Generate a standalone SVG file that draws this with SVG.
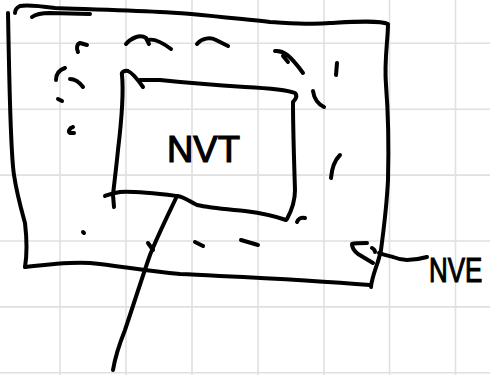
<svg xmlns="http://www.w3.org/2000/svg" width="490" height="375" viewBox="0 0 490 375">
<style>
.grid{stroke:#e0e0e0;stroke-width:1.6;fill:none}
.ink{stroke:#000;stroke-width:4;fill:none;stroke-linecap:round;stroke-linejoin:round}
.lbl{font-family:"Liberation Sans",Arial,sans-serif;fill:#000;stroke:#000;stroke-width:1.2}
</style>
<rect x="0" y="0" width="490" height="375" fill="#fff"/>
<g id="grid" class="grid">
<path d="M60,0V375M126,0V375M192,0V375M258,0V375M324,0V375M389.5,0V375M455.5,0V375"/>
<path d="M0,43.3H490M0,109.2H490M0,175.1H490M0,241H490M0,306.9H490M0,372.8H490"/>
</g>
<g id="nve">
<g class="ink">
<path d="M8,13 C9,60 10,150 14,175 C17,195 22,212 25,223 C27,240 27,255 25,267"/>
<path d="M25,267 C50,264 75,262 90,263 C120,266 145,271 180,274 C240,277 300,279 370,285"/>
<path d="M371,287 C372,275 378,265 381,250 C385,220 387,200 388,180 C389,140 388,110 386,85 C384,60 388,40 388,24 C380,20 350,22 330,23 C310,25 290,23 270,22 C230,18 190,13 160,12 C120,10 80,9 55,8 C40,6 25,5 20,6 C16,8 15,11 15,13"/>
<path d="M32,17 C36,14 42,13 50,13 L90,14"/>
</g>
<text class="lbl" transform="translate(429,282) scale(0.72,1)" x="0" y="0" font-size="36">NVE</text>
</g>
<g id="nvt">
<g class="ink">
<path d="M122,75 C121,72 125,70 128,71 C133,73 138,80 143,87"/>
<path d="M140,80 L160,80 C180,82 200,84 245,87 C265,88 285,89 295,93 C298,96 296,99 293,102 C293,130 294,160 295,190 C295,200 293,208 287,219"/>
<path d="M286,220 C275,216 260,213 245,211 C225,209 210,208 197,205 C190,202 185,197 177,196 C160,194 135,191 120,192 C113,193 108,195 105,196"/>
<path d="M122,75 C124,95 121,125 118,150 C116,170 114,185 113,195 L114,207"/>
</g>
<text class="lbl" x="167" y="162" font-size="36" textLength="73" lengthAdjust="spacingAndGlyphs">NVT</text>
</g>
<g id="inner-boundary" class="ink">
<path d="M78,52 C76,48 77,44 80,43 L87,45"/>
<path d="M126,44 C131,38 140,34 146,38 L149,44 M148,40 C155,38 163,43 171,49"/>
<path d="M197,44 C202,38 210,37 216,40 L228,46"/>
<path d="M275,51 C283,50 290,55 303,73 M283,56 L288,62"/>
<path d="M337,63 L336,75"/>
<path d="M313,91 C314,98 318,104 324,107"/>
<path d="M340,155 C335,160 332,166 331,178"/>
<path d="M65,68 C59,70 56,74 56,80"/>
<path d="M70,79 C75,79 80,83 83,87"/>
<path d="M58,99 L62,101"/>
<path d="M73,127 C69,128 68,132 70,133 L74,133"/>
<path d="M83,232 L84,233"/>
<path d="M195,242 L203,246"/>
<path d="M241,240 L258,245"/>
<path d="M297,222 C298,219 301,217 305,218"/>
</g>
<g id="connectors" class="ink">
<path d="M177,196 C168,215 158,235 150,255 C143,275 135,300 125,330 C119,345 115,358 113,370"/>
<path d="M148,243 L153,250"/>
<path d="M367,243 C360,243 355,243 352,244 C352,248 354,251 358,254 L373,263"/>
<path d="M372,248 C374,249 375,251 375,252"/>
<path d="M379,253 C384,255 389,256 393,257 C398,259 402,260 407,260 C414,260 420,259 427,257"/>
</g>
</svg>
